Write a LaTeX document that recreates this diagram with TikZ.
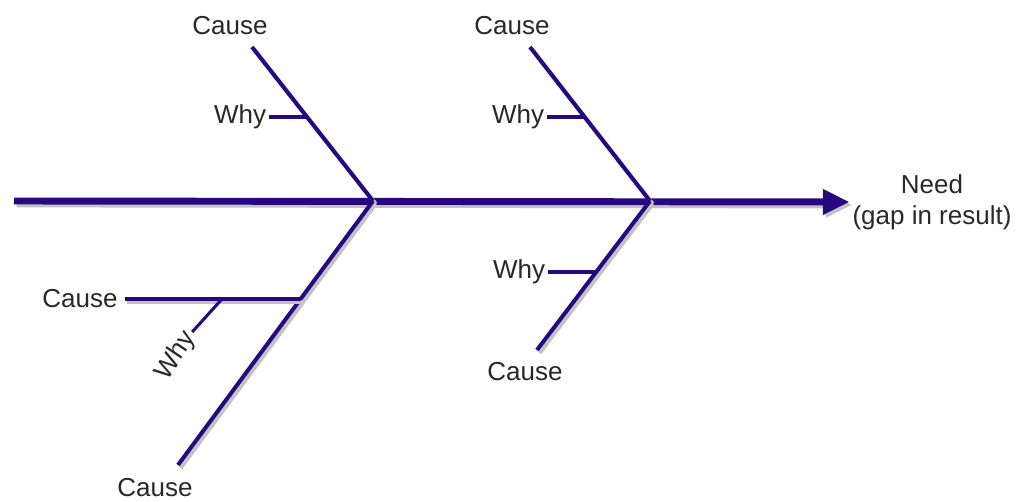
\documentclass[tikz,border=0pt]{standalone}
\usepackage{fontspec}
\setmainfont{Liberation Sans}
\usetikzlibrary{arrows.meta}
\definecolor{bonecol}{RGB}{40,8,128}
\definecolor{labelcol}{RGB}{40,40,40}
\definecolor{shadowcol}{RGB}{195,195,195}
\tikzset{every node/.style={font=\fontsize{19.5}{23.5}\selectfont, text=labelcol, inner sep=2pt}}

\begin{document}
\begin{tikzpicture}[x=0.75pt, y=-0.75pt,
  spine/.style={line width=5.2pt, bonecol, -{Triangle[length=20pt,width=18pt]},
    preaction={draw=shadowcol, line width=5.2pt, -{Triangle[length=20pt,width=18pt]},
      transform canvas={shift={(2pt,-2.2pt)}}}},
  bone/.style={line width=3pt, bonecol,
    preaction={draw=shadowcol, line width=3pt, transform canvas={shift={(2pt,-2.2pt)}}}},
  rib/.style={line width=2.3pt, bonecol}]
  % Fixed bounding box (image size in px)
  \path[use as bounding box] (0,0) rectangle (1028,502);

  % Head and joints on the spine.
  \coordinate (tail) at (14,201);
  \coordinate (j1) at (373,201);
  \coordinate (j2) at (650,201);
  \node[align=center] (need) at (932,202) {Need\\(gap in result)};

  % Labels.
  \node (causeA) at (230,26) {Cause};
  \node (whyA) at (240,117) {Why};
  \node (causeB) at (512,26) {Cause};
  \node (whyB) at (518,117) {Why};
  \node (whyC) at (519,272) {Why};
  \node (causeC) at (525,372) {Cause};
  \node (causeE) at (80,299) {Cause};
  \node[rotate=56] (whyD) at (176,356) {Why};
  \node (causeD) at (155,488) {Cause};

  % Bone ends and rib joints.
  \coordinate (tipA) at (252,47);
  \coordinate (ribA) at (307,117);
  \coordinate (tipB) at (530,47);
  \coordinate (ribB) at (585,117);
  \coordinate (tipC) at (537,350);
  \coordinate (ribC) at (596,272);
  \coordinate (tipD) at (178,465);
  \coordinate (ribD) at (301,299);
  \coordinate (ribE) at (222,299);

  % Spine.
  \draw[spine] (tail) -- (need.west);

  % Main bones.
  \draw[bone] (tipA) -- (j1);
  \draw[bone] (tipB) -- (j2);
  \draw[bone] (tipC) -- (j2);
  \draw[bone] (tipD) -- (j1);
  \draw[bone, shorten <=3pt] (causeE.east) -- (ribD);

  % Why ribs.
  \draw[rib] (whyA.east) -- (ribA);
  \draw[rib] (whyB.east) -- (ribB);
  \draw[rib] (whyC.east) -- (ribC);
  \draw[rib] (whyD.east) -- (ribE);
\end{tikzpicture}
\end{document}
